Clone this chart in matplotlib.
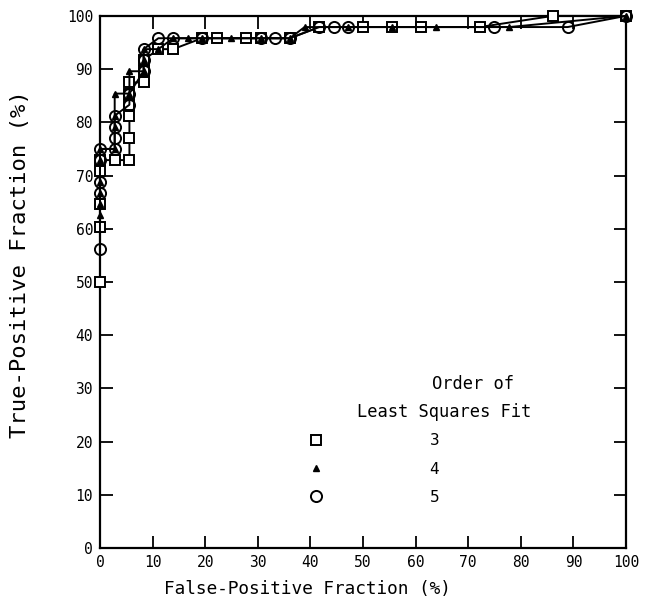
import matplotlib
matplotlib.use("Agg")
import matplotlib.pyplot as plt
from matplotlib.lines import Line2D

plt.rcParams['font.family'] = ['DejaVu Sans Mono', 'DejaVu Sans']

# Order 3 (squares)
fp3 = [0, 0, 0, 0, 0, 2.8, 5.6, 5.6, 5.6, 5.6, 5.6, 5.6, 8.3, 8.3, 8.3, 11.1, 13.9,
       19.4, 22.2, 27.8, 30.6, 36.1, 41.7, 50.0, 55.6, 61.1, 72.2, 86.1, 100]
tp3 = [50.0, 60.4, 64.6, 70.8, 72.9, 72.9, 72.9, 77.1, 81.25, 83.3, 85.4, 87.5, 87.5, 89.6, 91.7, 93.75, 93.75,
       95.8, 95.8, 95.8, 95.8, 95.8, 97.9, 97.9, 97.9, 97.9, 97.9, 100, 100]

# Order 4 (triangles)
fp4 = [0, 0, 0, 0, 0, 0, 2.8, 2.8, 2.8, 2.8, 5.6, 5.6, 8.3, 8.3, 8.3, 11.1, 13.9,
       16.7, 19.4, 25.0, 30.6, 36.1, 38.9, 47.2, 55.6, 63.9, 77.8, 100]
tp4 = [62.5, 64.6, 66.7, 68.75, 72.9, 75.0, 75.0, 79.2, 81.25, 85.4, 85.4, 89.6, 89.6, 91.7, 93.75, 93.75, 95.8,
       95.8, 95.8, 95.8, 95.8, 95.8, 97.9, 97.9, 97.9, 97.9, 97.9, 100]

# Order 5 (circles)
fp5 = [0, 0, 0, 0, 0, 2.8, 2.8, 2.8, 2.8, 5.6, 5.6, 8.3, 8.3, 8.3, 11.1, 13.9,
       19.4, 30.6, 33.3, 36.1, 41.7, 44.4, 47.2, 75.0, 88.9, 100]
tp5 = [56.25, 66.7, 68.75, 72.9, 75.0, 75.0, 77.1, 79.2, 81.25, 83.3, 85.4, 89.6, 91.7, 93.75, 95.8, 95.8,
       95.8, 95.8, 95.8, 95.8, 97.9, 97.9, 97.9, 97.9, 97.9, 100]

ticks = list(range(0, 101, 10))
legend_labels = ['3', '4', '5']

fig = plt.figure(figsize=(6.62, 6.11), dpi=100)
ax = fig.add_axes([0.151, 0.103, 0.7946, 0.871])

lw = 1.4
ax.plot(fp3, tp3, color='black', lw=lw, marker='s', ms=7, mfc='white', mec='black', mew=1.4,
        clip_on=False, zorder=3)
ax.plot(fp4, tp4, color='black', lw=lw, marker='^', ms=5, mfc='black', mec='black',
        clip_on=False, zorder=4)
ax.plot(fp5, tp5, color='black', lw=lw, marker='o', ms=8, mfc='none', mec='black', mew=1.4,
        clip_on=False, zorder=5)

ax.set_xlim(0, 100)
ax.set_ylim(0, 100)
ax.set_xticks(ticks)
ax.set_yticks(ticks)
ax.tick_params(direction='in', length=9, width=1.3, top=True, right=True,
               labelsize=10.5, pad=5)
for s in ax.spines.values():
    s.set_linewidth(1.6)

ax.set_xlabel('False-Positive Fraction (%)', fontsize=12.8)
ax.set_ylabel('True-Positive Fraction (%)', fontsize=16)
ax.xaxis.set_label_coords(0.394, -0.06)
ax.yaxis.set_label_coords(-0.133, 0.533)

handles = [
    Line2D([], [], ls='none', marker='s', ms=7, mfc='white', mec='black', mew=1.4),
    Line2D([], [], ls='none', marker='^', ms=5, mfc='black', mec='black'),
    Line2D([], [], ls='none', marker='o', ms=8, mfc='none', mec='black', mew=1.4),
]
ax.legend(handles, legend_labels, loc='center', bbox_to_anchor=(0.52, 0.1485),
          frameon=False, fontsize=11.5, handlelength=1.0, handletextpad=6.6,
          labelspacing=0.82)

ax.text(0.71, 0.308, 'Order of', transform=ax.transAxes, ha='center', va='center', fontsize=12.3)
ax.text(0.654, 0.256, 'Least Squares Fit', transform=ax.transAxes, ha='center', va='center', fontsize=12.3)

fig.savefig('out.png', dpi=100)
